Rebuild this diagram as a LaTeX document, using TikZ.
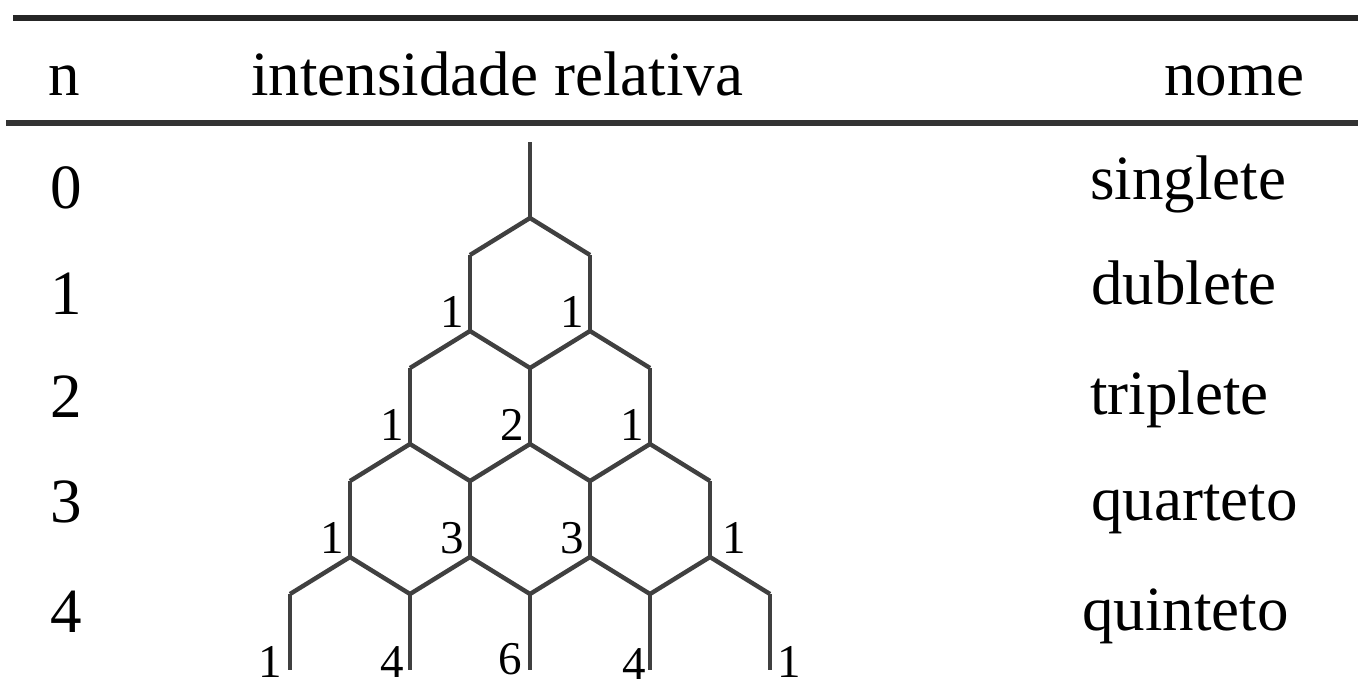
\documentclass[tikz,border=0pt]{standalone}
\usepackage{fontspec}
\setmainfont{Liberation Serif}
\usetikzlibrary{positioning, calc}

\begin{document}
\begin{tikzpicture}[x=0.5pt, y=0.5pt,
    rule/.style={line width=3pt, black!85},
    branch/.style={line width=2.2pt, black!75, line join=miter},
    cell/.style={font=\fontsize{31.5}{36}\selectfont, inner sep=0pt, anchor=base west},
    coef/.style={font=\fontsize{23.5}{26}\selectfont, inner sep=0pt}]

    \useasboundingbox (0,0) rectangle (1358,-686);

    % Table rules
    \draw[rule] (13,-18) -- (1358,-18);
    \draw[rule, black!80] (6,-123) -- (1358,-123);

    % Header
    \node[cell] (hn) at (48,-95) {n};
    \node[cell] (hint) at (251,-95) {intensidade relativa};
    \node[cell] (hnome) at (1164,-95) {nome};

    % Column n
    \node[cell] (n0) at (50,-208) {0};
    \node[cell] (n1) at (50,-314) {1};
    \node[cell] (n2) at (50,-417) {2};
    \node[cell] (n3) at (50,-522) {3};
    \node[cell] (n4) at (50,-632) {4};
    \node[cell] (n5) at (50,-729) {5};

    % Column nome
    \node[cell] (s0) at (1090,-199) {singlete};
    \node[cell] (s1) at (1091,-304) {dublete};
    \node[cell] (s2) at (1090,-414) {triplete};
    \node[cell] (s3) at (1091,-520) {quarteto};
    \node[cell] (s4) at (1082,-630) {quinteto};

    % Tops and bottoms of the lines of each row
    \foreach \n in {0,...,4} {
        \foreach \j in {0,...,\n} {
            \coordinate (t\n\j) at ({530+(2*\j-\n)*60}, {-142-113*\n});
            \coordinate (b\n\j) at ({530+(2*\j-\n)*60}, {-218-113*\n});
        }
    }

    % Lines
    \foreach \n in {0,...,4}
        \foreach \j in {0,...,\n}
            \draw[branch] (t\n\j) -- (b\n\j);

    % Splittings
    \foreach \n in {1,...,4} {
        \pgfmathtruncatemacro\m{\n-1}
        \foreach \j in {0,...,\m} {
            \pgfmathtruncatemacro\k{\j+1}
            \draw[branch] (t\n\j) -- (b\m\j) -- (t\n\k);
        }
    }

    % Relative intensities
    \node[coef, anchor=base east] (c10) at ($(b10)+(-6,4)$) {1};
    \node[coef, anchor=base east] (c11) at ($(b11)+(-6,4)$) {1};

    \node[coef, anchor=base east] (c20) at ($(b20)+(-6,4)$) {1};
    \node[coef, anchor=base east] (c21) at ($(b21)+(-6,4)$) {2};
    \node[coef, anchor=base east] (c22) at ($(b22)+(-6,4)$) {1};

    \node[coef, anchor=base east] (c30) at ($(b30)+(-6,4)$) {1};
    \node[coef, anchor=base east] (c31) at ($(b31)+(-6,4)$) {3};
    \node[coef, anchor=base east] (c32) at ($(b32)+(-6,4)$) {3};
    \node[coef, anchor=base west] (c33) at ($(b33)+(12,4)$) {1};

    \node[coef, anchor=base east] (c40) at ($(b40)+(-8,-7)$) {1};
    \node[coef, anchor=base east] (c41) at ($(b41)+(-6,-7)$) {4};
    \node[coef, anchor=base east] (c42) at ($(b42)+(-8,-4)$) {6};
    \node[coef, anchor=base east] (c43) at ($(b43)+(-4,-9)$) {4};
    \node[coef, anchor=base west] (c44) at ($(b44)+(7,-7)$) {1};

\end{tikzpicture}
\end{document}
